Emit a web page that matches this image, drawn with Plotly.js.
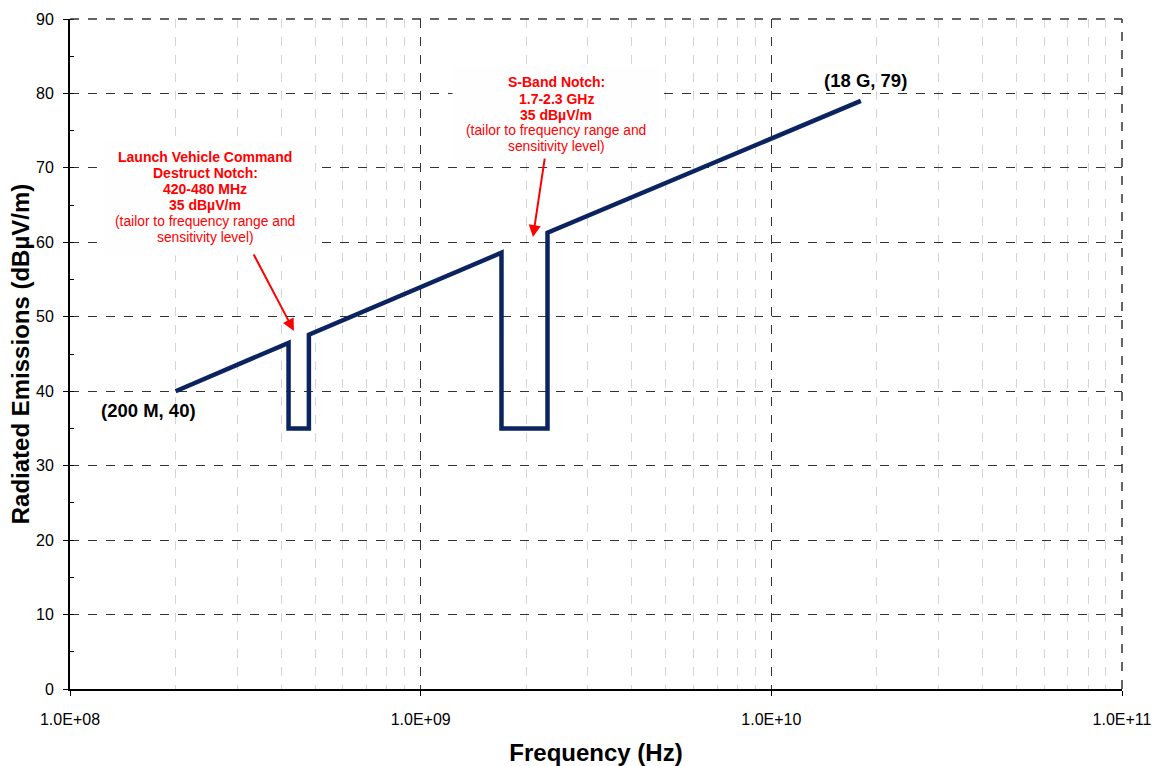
<!DOCTYPE html>
<html>
<head>
<meta charset="utf-8">
<script src="https://cdn.plot.ly/plotly-3.0.1.min.js"></script>
<style>html,body{margin:0;padding:0;background:#fff;}#chart{width:1155px;height:766px;}</style>
</head>
<body>
<div id="chart"></div>
<script>
// Limit curve (frequency in Hz, level in dBµV/m)
const freqHz = [2e8, 4.2e8, 4.2e8, 4.8e8, 4.8e8, 1.7e9, 1.7e9, 2.3e9, 2.3e9, 1.8e10];
const levels = [40, 46.5, 35, 35, 47.6, 58.6, 35, 35, 61.3, 79];

// Axis ticks
const xTickVals = [1e8, 1e9, 1e10, 1e11];
const xTickText = ['1.0E+08', '1.0E+09', '1.0E+10', '1.0E+11'];
const yTickVals = [0, 10, 20, 30, 40, 50, 60, 70, 80, 90];

// Text
const startLabel = '(200 M, 40)';
const endLabel = '(18 G, 79)';
const notch1Lines = ['Launch Vehicle Command', 'Destruct Notch:', '420-480 MHz', '35 dBµV/m', '(tailor to frequency range and', 'sensitivity level)'];
const notch1Bold = [true, true, true, true, false, false];
const notch2Lines = ['S-Band Notch:', '1.7-2.3 GHz', '35 dBµV/m', '(tailor to frequency range and', 'sensitivity level)'];
const notch2Bold = [true, true, true, false, false];

const font = 'Liberation Sans, Arial, sans-serif';
const red = '#ff0000';
const boxFill = 'rgb(254,254,254)';
const W = 1052, H = 670, L = 70, T = 19;
const px = v => (v - L) / W;
const py = v => (T + H - v) / H;

const trace = {
  x: freqHz, y: levels, type: 'scatter', mode: 'lines',
  line: {color: '#0b2460', width: 4.5},
  hoverinfo: 'skip', showlegend: false
};

const annotations = [];
const shapes = [
  {type: 'line', xref: 'paper', yref: 'paper', x0: 1, x1: 1, y0: 0, y1: 1,
   line: {color: '#333', width: 1.5, dash: 'dash'}},
  {type: 'line', xref: 'paper', yref: 'paper', x0: 0, x1: 1, y0: 1, y1: 1,
   line: {color: '#333', width: 1.5, dash: 'dash'}}
];
// white backing boxes for the callouts
function addBox(x0, x1, y0, y1) {
  shapes.push({type: 'rect', xref: 'paper', yref: 'paper', layer: 'above',
    x0: px(x0), x1: px(x1), y0: py(y1), y1: py(y0),
    fillcolor: boxFill, opacity: 1, line: {color: boxFill, width: 1}});
  annotations.push({
    xref: 'paper', yref: 'paper', x: px((x0 + x1) / 2), y: py((y0 + y1) / 2),
    text: ' ', showarrow: false, width: x1 - x0, height: y1 - y0,
    bgcolor: boxFill, borderpad: 0, borderwidth: 0, opacity: 1,
    xanchor: 'center', yanchor: 'middle'
  });
}
addBox(103, 313, 141, 255);
addBox(453, 660, 66, 158);

function addLines(lines, bold, cx, y0, step) {
  lines.forEach((t, i) => {
    annotations.push({
      xref: 'paper', yref: 'paper', x: px(cx), y: py(y0 + i * step),
      text: bold[i] ? '<b>' + t + '</b>' : t, showarrow: false,
      font: {size: bold[i] ? 14 : 13.8, color: red, family: font},
      xanchor: 'center', yanchor: 'middle'
    });
  });
}
addLines(notch1Lines, notch1Bold, 205, 157, 16);
addLines(notch2Lines, notch2Bold, 556, 82.5, 16.1);

annotations.push(
  {x: Math.log10(4.35e8), y: 48.1, text: '', showarrow: true, ax: -41, ay: -78,
   arrowcolor: red, arrowwidth: 2, arrowhead: 2, arrowsize: 1.2, standoff: 0},
  {x: Math.log10(2.09e9), y: 60.7, text: '', showarrow: true, ax: 12, ay: -80,
   arrowcolor: red, arrowwidth: 2, arrowhead: 2, arrowsize: 1.2, standoff: 0},
  {xref: 'paper', yref: 'paper', x: px(148), y: py(410), text: '<b>' + startLabel + '</b>',
   showarrow: false, font: {size: 18.5, family: font, color: '#000'}, xanchor: 'center', yanchor: 'middle'},
  {xref: 'paper', yref: 'paper', x: px(865), y: py(80), text: '<b>' + endLabel + '</b>',
   showarrow: false, font: {size: 18.5, family: font, color: '#000'}, xanchor: 'center', yanchor: 'middle'}
);

const layout = {
  width: 1155, height: 766,
  margin: {l: 70, r: 33, t: 19, b: 77},
  paper_bgcolor: '#ffffff', plot_bgcolor: '#ffffff',
  font: {family: font, color: '#000'},
  xaxis: {
    type: 'log', range: [8, 11],
    tickvals: xTickVals, ticktext: xTickText,
    ticks: 'outside', ticklen: 5, tickcolor: '#000',
    tickfont: {size: 16, family: font},
    ticklabelstandoff: 10,
    showline: true, linecolor: '#000', linewidth: 2,
    showgrid: true, gridcolor: '#333', griddash: 'dash', gridwidth: 1,
    minor: {dtick: 'D1', showgrid: true, gridcolor: '#d4d4d4', griddash: 'dash', gridwidth: 1, ticks: ''},
    zeroline: false,
    title: {text: '<b>Frequency (Hz)</b>', font: {size: 24, family: font}, standoff: 17}
  },
  yaxis: {
    range: [0, 90], tickvals: yTickVals,
    ticks: 'outside', ticklen: 5, tickcolor: '#000',
    tickfont: {size: 16, family: font},
    ticklabelstandoff: 6,
    showline: true, linecolor: '#000', linewidth: 2,
    showgrid: true, gridcolor: '#333', griddash: 'dash', gridwidth: 1,
    minor: {dtick: 5, ticks: 'inside', ticklen: 4, tickcolor: '#000', showgrid: false},
    zeroline: false,
    title: {text: '<b>Radiated Emissions (dBµV/m)</b>', font: {size: 24, family: font}, standoff: 0}
  },
  shapes: shapes,
  annotations: annotations
};

Plotly.newPlot('chart', [trace], layout, {displayModeBar: false, staticPlot: true});
</script>
</body>
</html>
